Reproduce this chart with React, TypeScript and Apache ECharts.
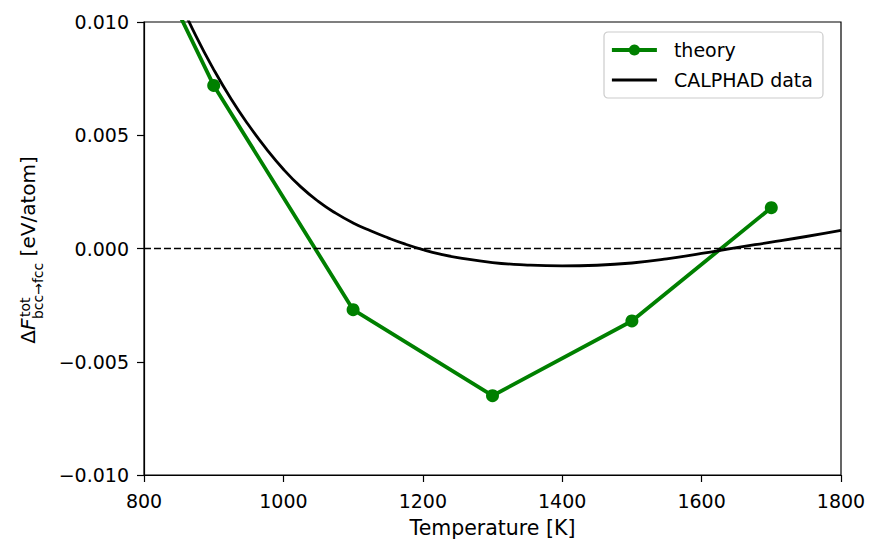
import React, { useEffect, useRef } from "react";
import * as echarts from "echarts";

// ---- data ----
const theoryT = [700, 900, 1100, 1300, 1500, 1700];
const theoryF = [0.0199, 0.0072, -0.0027, -0.0065, -0.0032, 0.0018];

const calphadT = [850, 875, 900, 925, 950, 975, 1000, 1025, 1050, 1075, 1100, 1125, 1150, 1175, 1200, 1225, 1250, 1300, 1350, 1400, 1450, 1500, 1550, 1600, 1650, 1700, 1750, 1800];
const calphadF = [0.011, 0.00935, 0.0079, 0.0066, 0.00545, 0.00442, 0.0035, 0.00272, 0.00208, 0.00156, 0.00113, 0.00078, 0.00047, 0.00019, -0.00005, -0.00025, -0.0004, -0.00062, -0.00073, -0.00077, -0.00074, -0.00064, -0.00046, -0.00022, 0.00004, 0.00028, 0.00053, 0.0008];

const xTicks = { min: 800, max: 1800, interval: 200 };
const yTicks = { min: -0.01, max: 0.01, interval: 0.005 };

const FONT = '"DejaVu Sans", "Noto Sans", sans-serif';

function measure(text: string, font: string): number {
  const c = document.createElement("canvas").getContext("2d");
  if (!c) return text.length * 10;
  c.font = font;
  return c.measureText(text).width;
}

function buildYLabel() {
  const fs = 20;
  const ss = 14;
  const mainFont = `${fs}px ${FONT}`;
  const itFont = `italic ${fs}px ${FONT}`;
  const smallFont = `${ss}px ${FONT}`;
  const wD = measure("Δ", mainFont);
  const wF = measure("F", itFont);
  const wSup = measure("tot", smallFont);
  const wSub = measure("bcc→fcc", smallFont);
  const wSp = measure(" ", mainFont);
  const wUnit = measure("[eV/atom]", mainFont);
  const xSup = wD + wF + 1.5;
  const xSub = wD + wF - 0.5;
  const xUnit = Math.max(xSup + wSup, xSub + wSub) + wSp;
  const W = xUnit + wUnit;
  const mid = (base: number, size: number) => base - 0.346 * size;
  const t = (text: string, x: number, y: number, font: string) => ({
    type: "text",
    silent: true,
    style: { text, x, y, font, fill: "#000", align: "left", verticalAlign: "middle" },
  });
  return {
    type: "group",
    x: 34.5,
    y: 250 + W / 2,
    rotation: Math.PI / 2,
    children: [
      t("Δ", 0, mid(0, fs), mainFont),
      t("F", wD, mid(0, fs), itFont),
      t("tot", xSup, mid(-5, ss), smallFont),
      t("bcc→fcc", xSub, mid(8.6, ss), smallFont),
      t("[eV/atom]", xUnit, mid(0, fs), mainFont),
    ],
  };
}

export default function App() {
  const ref = useRef<HTMLDivElement>(null);
  useEffect(() => {
    if (!ref.current) return;
    const chart = echarts.init(ref.current, undefined, { renderer: "svg" });
    const axisColor = "#000";
    const option: any = {
      animation: false,
      backgroundColor: "#fff",
      textStyle: { fontFamily: FONT },
      grid: {
        left: 144,
        right: 41,
        top: 22,
        bottom: 78,
        containLabel: false,
        outerBoundsMode: "none",
        show: true,
        borderColor: axisColor,
        borderWidth: 1.2,
        backgroundColor: "transparent",
      },
      legend: {
        orient: "vertical",
        left: 604,
        top: 32,
        padding: [8, 10, 8, 6],
        itemWidth: 45,
        itemHeight: 14,
        itemGap: 10,
        borderColor: "#cccccc",
        borderWidth: 1.2,
        borderRadius: 4,
        backgroundColor: "rgba(255,255,255,0.8)",
        textStyle: { fontSize: 19, color: "#000", fontFamily: FONT, lineHeight: 20, padding: [0, 0, 0, 12] },
        data: [
          { name: "theory", lineStyle: { width: 3.8 } },
          { name: "CALPHAD data", itemStyle: { opacity: 0 }, lineStyle: { width: 2.8 } },
        ],
      },
      xAxis: {
        type: "value",
        min: xTicks.min,
        max: xTicks.max,
        interval: xTicks.interval,
        name: "Temperature [K]",
        nameLocation: "middle",
        nameGap: 42,
        nameTextStyle: { fontSize: 20.5, color: "#000", fontFamily: FONT },
        axisLine: { show: true, onZero: false, lineStyle: { color: axisColor, width: 1.2 } },
        axisTick: { show: true, inside: false, length: 7, lineStyle: { color: axisColor, width: 1.2 } },
        axisLabel: {
          color: "#000",
          fontSize: 19,
          margin: 16,
          fontFamily: FONT,
          formatter: (v: number) => String(Math.round(v)),
        },
        splitLine: { show: false },
      },
      yAxis: {
        type: "value",
        min: yTicks.min,
        max: yTicks.max,
        interval: yTicks.interval,
        axisLine: { show: true, onZero: false, lineStyle: { color: axisColor, width: 1.2 } },
        axisTick: { show: true, inside: false, length: 7, lineStyle: { color: axisColor, width: 1.2 } },
        axisLabel: {
          color: "#000",
          fontSize: 19,
          margin: 15,
          fontFamily: FONT,
          formatter: (v: number) => (v < -1e-9 ? "\u2212" : "") + Math.abs(v).toFixed(3),
        },
        splitLine: { show: false },
      },
      graphic: [buildYLabel()],
      series: [
        {
          name: "theory",
          type: "line",
          data: theoryT.map((t, i) => [t, theoryF[i]]),
          color: "#008000",
          symbol: "circle",
          symbolSize: 13,
          showSymbol: true,
          lineStyle: { width: 3.8, color: "#008000" },
          itemStyle: { color: "#008000" },
          z: 3,
          clip: true,
        },
        {
          name: "CALPHAD data",
          type: "line",
          data: calphadT.map((t, i) => [t, calphadF[i]]),
          color: "#000",
          symbol: "none",
          smooth: 0.5,
          lineStyle: { width: 2.8, color: "#000" },
          z: 4,
          clip: true,
          markLine: {
            silent: true,
            symbol: ["none", "none"],
            label: { show: false },
            lineStyle: { color: "#000", type: [7, 3], width: 1.4 },
            data: [{ yAxis: 0 }],
          },
        },
      ],
    };
    chart.setOption(option);
    return () => chart.dispose();
  }, []);
  return (
    <div
      ref={ref}
      style={{ position: "absolute", left: 0, top: 0, width: 882, height: 553, background: "#fff" }}
    />
  );
}
